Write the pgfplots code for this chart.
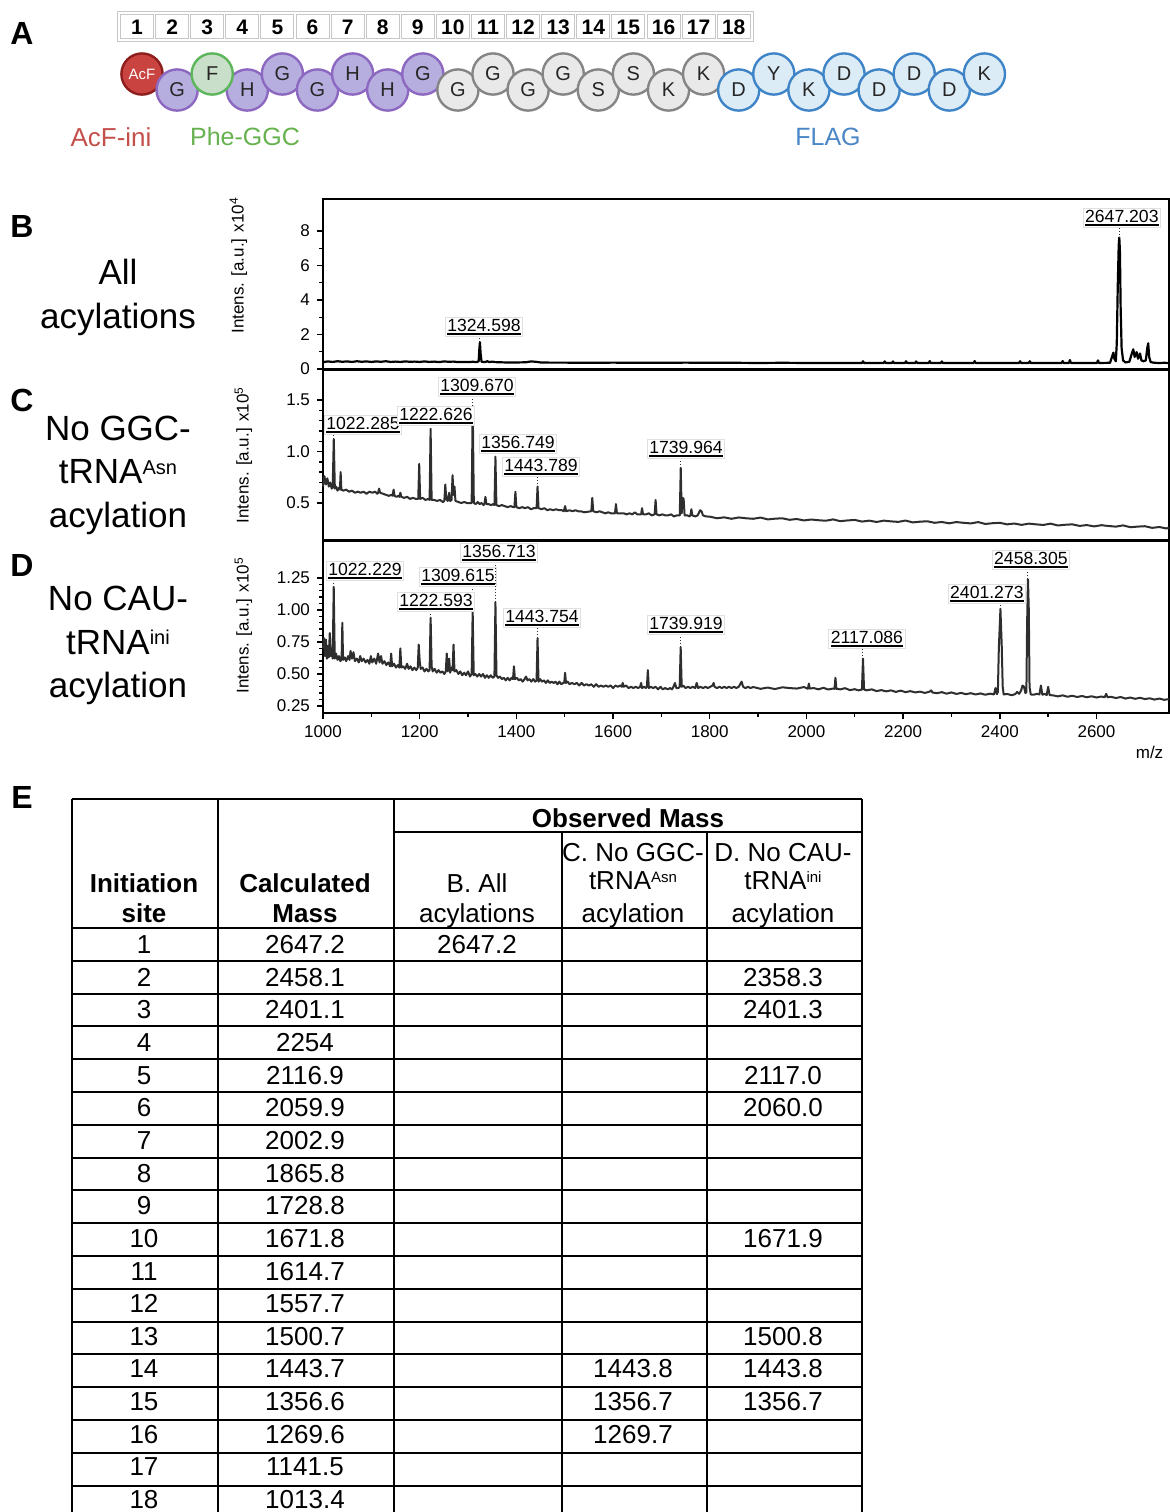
\documentclass[border=0pt]{standalone}
\usepackage{fontspec}
\setmainfont{Liberation Sans}
\usepackage{pgfplots}
\pgfplotsset{compat=1.18}

\definecolor{spec}{HTML}{2E2E2E}
\definecolor{acfF}{HTML}{C94440}
\definecolor{acfD}{HTML}{8E1E1E}
\definecolor{purF}{HTML}{B7AEE0}
\definecolor{purD}{HTML}{8C68C0}
\definecolor{grnF}{HTML}{CADFC9}
\definecolor{grnD}{HTML}{5DB65B}
\definecolor{gryF}{HTML}{E9E9E9}
\definecolor{gryD}{HTML}{858585}
\definecolor{bluF}{HTML}{DCECF6}
\definecolor{bluD}{HTML}{3E84C6}
\definecolor{acfT}{HTML}{C4504C}
\definecolor{pheT}{HTML}{66B24E}
\definecolor{flagT}{HTML}{4A86C6}

\newcommand{\fs}[2]{\fontsize{#1}{#2}\selectfont}
% small raised superscript: size, raise, text
\newcommand{\sups}[3]{\raisebox{#2}{\fontsize{#1}{#1}\selectfont #3}}
% underlined peak label
\newcommand{\ul}[1]{\vtop{\hbox{#1}\kern0.5pt\hrule height 0.9pt}}
\tikzset{pklbl/.style={fill=white, draw=black!12, inner sep=1pt, font=\fs{8.8}{10}, text=black}}
% peak annotation: m/z, peak top, label x, label y, text
\newcommand{\pk}[5]{%
  \draw[densely dotted, line width=0.5pt, spec] (axis cs:#1,#2) -- (axis cs:#1,#4);
  \node[pklbl] at (axis cs:#3,#4) {\ul{#5}};}

\pgfplotsset{
  specaxis/.style={
    scale only axis, width=423pt,
    xmin=1000, xmax=2750,
    axis line style={line width=1pt},
    tick style={line width=0.7pt, black},
    tick align=outside,
    major tick length=3pt, minor tick length=2pt,
    ytick pos=left, xtick pos=bottom,
    ticklabel style={font=\fs{8.5}{10}},
    /pgf/number format/assume math mode=true,
    ylabel style={font=\fs{8.5}{10}, anchor=center},
    clip=false,
  },
  specline/.style={line width=1pt, line join=round, spec, mark=none},
}

\begin{document}
\begin{tikzpicture}
\useasboundingbox (0,0) rectangle (585pt,-756pt);

% ---------------- A: peptide sequence ----------------
\begin{scope}[x=0.5pt,y=-0.5pt]
  \draw[black!22, line width=0.5pt] (117,11) rectangle (753,41);
  \foreach \i in {1,...,18} {
    \draw[black!22, line width=0.5pt] ({120.5+35.1*(\i-1)},14) rectangle ({153.5+35.1*(\i-1)},38);
    \node[font=\bfseries\fs{10.5}{12}] at ({137+35.1*(\i-1)},27) {\i};
  }
  \node[font=\bfseries\fs{16}{18}] at (22,33) {A};
  \node[font=\fs{13}{15}, text=acfT] at (111,137) {AcF-ini};
  \node[font=\fs{12.5}{15}, text=pheT] at (245,137) {Phe-GGC};
  \node[font=\fs{12.5}{15}, text=flagT] at (828,137) {FLAG};
\end{scope}

\begin{axis}[at={(0pt,0pt)}, anchor=north west, scale only axis,
  width=585pt, height=80pt, xmin=0, xmax=1170, ymin=-160, ymax=0,
  hide axis, clip=false, point meta=explicit symbolic,
  nodes near coords,
  every node near coord/.style={anchor=center, font=\fs{10}{10}, text=black!85}]
\addplot[only marks, mark=*, mark size=10.3pt, mark options={fill=acfF, draw=acfD, line width=1.2pt},
  every node near coord/.append style={text=white, font=\fs{7.5}{8}}]
  coordinates {(142,-74) [AcF]};
\addplot[only marks, mark=*, mark size=10.3pt, mark options={fill=purF, draw=purD, line width=1.2pt}]
  coordinates {(177.1,-90) [G] (247.3,-90) [H] (282.4,-74) [G] (317.5,-90) [G]
               (352.6,-74) [H] (387.7,-90) [H] (422.8,-74) [G]};
\addplot[only marks, mark=*, mark size=10.3pt, mark options={fill=grnF, draw=grnD, line width=1.2pt}]
  coordinates {(212.2,-74) [F]};
\addplot[only marks, mark=*, mark size=10.3pt, mark options={fill=gryF, draw=gryD, line width=1.2pt}]
  coordinates {(457.9,-90) [G] (493,-74) [G] (528.1,-90) [G] (563.2,-74) [G]
               (598.3,-90) [S] (633.4,-74) [S] (668.5,-90) [K] (703.6,-74) [K]};
\addplot[only marks, mark=*, mark size=10.3pt, mark options={fill=bluF, draw=bluD, line width=1.2pt}]
  coordinates {(738.7,-90) [D] (773.8,-74) [Y] (808.9,-90) [K] (844,-74) [D]
               (879.1,-90) [D] (914.2,-74) [D] (949.3,-90) [D] (984.4,-74) [K]};
\end{axis}

% ---------------- B: all acylations ----------------
\begin{axis}[specaxis, at={(161.5pt,-184.5pt)}, anchor=south west, height=85pt,
  ymin=0, ymax=9.855, ytick={0,2,4,6,8}, minor y tick num=1, xtick=\empty,
  ylabel={Intens. [a.u.] x10\textsuperscript{4}},
  ylabel style={at={(axis description cs:-0.1,0.61)}}]
\addplot[specline, line width=1.1pt, black] coordinates {
(1000,0.40)(1010,0.44)(1020,0.41)(1030,0.45)(1040,0.42)(1050,0.44)(1060,0.41)(1070,0.45)
(1080,0.42)(1090,0.44)(1100,0.41)(1110,0.44)(1120,0.42)(1130,0.45)(1140,0.41)(1150,0.43)
(1160,0.41)(1170,0.44)(1180,0.42)(1190,0.43)(1200,0.41)(1210,0.44)(1220,0.41)(1230,0.43)
(1240,0.40)(1250,0.44)(1260,0.42)(1270,0.43)(1280,0.40)(1290,0.41)(1300,0.40)(1310,0.42)
(1318,0.40)(1322,0.45)(1323.5,1.2)(1324.6,1.55)(1326,0.9)(1328,0.42)(1335,0.40)(1340,0.45)
(1344,0.40)(1350,0.43)(1356,0.40)(1365,0.39)(1380,0.38)(1400,0.38)(1420,0.39)(1430,0.44)
(1440,0.42)(1450,0.38)(1470,0.37)(1500,0.37)(1550,0.36)(1600,0.37)(1650,0.36)(1700,0.36)
(1750,0.37)(1800,0.36)(1850,0.36)(1900,0.35)(1950,0.36)(2000,0.35)(2050,0.35)(2100,0.35)
(2115,0.35)(2117,0.45)(2119,0.35)(2160,0.35)(2162,0.44)(2164,0.35)(2177,0.35)(2179,0.44)
(2181,0.35)(2204,0.35)(2206,0.45)(2208,0.35)(2225,0.35)(2227,0.44)(2229,0.35)(2253,0.35)
(2255,0.46)(2257,0.35)(2278,0.35)(2280,0.44)(2282,0.35)(2346,0.35)(2348,0.46)(2350,0.35)
(2440,0.35)(2442,0.45)(2444,0.35)(2460,0.35)(2462,0.45)(2464,0.35)(2528,0.35)(2530,0.46)
(2532,0.35)(2543,0.35)(2545,0.52)(2547,0.35)(2601,0.35)(2603,0.50)(2605,0.35)(2628,0.36)
(2632,0.7)(2635,0.95)(2637,0.6)(2640,0.45)(2642,1.5)(2644,4.8)(2646,7.2)(2647.2,7.62)
(2648.5,6.8)(2650,3.5)(2652,1.2)(2655,0.5)(2660,0.38)(2668,0.42)(2672,0.8)(2676,1.14)
(2679,0.7)(2683,0.98)(2686,0.6)(2690,0.9)(2693,0.5)(2697,0.45)(2702,0.5)(2705,1.2)
(2707,1.49)(2709,0.7)(2712,0.40)(2720,0.36)(2730,0.35)(2740,0.36)(2750,0.35)};
\pk{1324.6}{1.55}{1333}{2.43}{1324.598}
\pk{2647.2}{7.62}{2652.5}{8.75}{2647.203}
\end{axis}

% ---------------- C: no GGC-tRNA(Asn) acylation ----------------
\begin{axis}[specaxis, at={(161.5pt,-270pt)}, anchor=south west, height=85pt,
  ymin=0.141, ymax=1.791, ytick={0.5,1.0,1.5}, minor y tick num=4, xtick=\empty,
  yticklabel style={/pgf/number format/.cd, fixed, fixed zerofill, precision=1},
  ylabel={Intens. [a.u.] x10\textsuperscript{5}},
  ylabel style={at={(axis description cs:-0.094,0.5)}}]
\addplot[specline] coordinates {
(1000,0.66)(1003,0.76)(1006,0.68)(1009,0.74)(1012,0.66)(1015,0.70)(1018,0.64)(1020,0.65)
(1022.3,1.12)(1024.5,0.64)(1027,0.66)(1030,0.62)(1033,0.65)(1035,0.63)(1036.5,0.80)(1038,0.63)
(1042,0.62)(1048,0.63)(1054,0.61)(1060,0.62)(1066,0.60)(1072,0.61)(1078,0.60)(1084,0.61)
(1090,0.59)(1096,0.61)(1102,0.60)(1108,0.61)(1112,0.59)(1114,0.60)(1116,0.64)(1118,0.60)
(1124,0.59)(1130,0.58)(1136,0.57)(1142,0.58)(1144,0.57)(1146,0.63)(1148,0.57)(1152,0.56)
(1156,0.57)(1158,0.56)(1160,0.60)(1162,0.56)(1168,0.55)(1174,0.56)(1180,0.54)(1186,0.55)
(1192,0.54)(1197,0.54)(1199,0.88)(1201,0.54)(1206,0.55)(1212,0.53)(1218,0.54)(1220.5,0.53)
(1222.6,1.22)(1224.7,0.53)(1230,0.53)(1236,0.52)(1242,0.53)(1248,0.51)(1251,0.52)(1253,0.68)
(1255,0.54)(1258,0.52)(1261,0.60)(1263,0.52)(1266,0.53)(1268,0.77)(1270,0.58)(1272,0.66)
(1274,0.52)(1280,0.51)(1286,0.50)(1292,0.51)(1298,0.50)(1304,0.50)(1307.5,0.50)(1309.7,1.44)
(1312,0.50)(1316,0.49)(1320,0.51)(1324,0.49)(1328,0.50)(1332,0.48)(1334,0.49)(1336,0.56)
(1338,0.49)(1342,0.49)(1348,0.48)(1352,0.49)(1354.7,0.48)(1356.7,0.95)(1358.7,0.48)(1364,0.47)
(1370,0.48)(1376,0.47)(1382,0.46)(1388,0.47)(1394,0.46)(1396,0.46)(1398,0.61)(1400,0.46)
(1406,0.45)(1412,0.46)(1418,0.45)(1424,0.46)(1430,0.44)(1436,0.45)(1441.8,0.45)(1443.8,0.66)
(1445.8,0.45)(1452,0.44)(1458,0.45)(1464,0.43)(1470,0.44)(1476,0.43)(1482,0.44)(1488,0.43)
(1494,0.43)(1498,0.42)(1500.8,0.47)(1503,0.42)(1510,0.43)(1516,0.42)(1522,0.43)(1528,0.42)
(1534,0.42)(1540,0.41)(1555,0.42)(1557,0.55)(1559,0.42)(1566,0.41)(1572,0.42)(1578,0.41)
(1584,0.40)(1590,0.41)(1596,0.40)(1604,0.40)(1606,0.49)(1608,0.40)(1622,0.40)(1628,0.39)
(1634,0.40)(1640,0.39)(1645,0.41)(1650,0.39)(1658,0.39)(1660,0.45)(1662,0.39)(1668,0.39)
(1674,0.40)(1680,0.38)(1686,0.39)(1688,0.53)(1690,0.39)(1696,0.38)(1702,0.39)(1708,0.38)
(1714,0.38)(1720,0.39)(1726,0.37)(1732,0.38)(1738,0.38)(1740,0.84)(1742,0.40)(1744,0.55)
(1746,0.54)(1748,0.38)(1754,0.38)(1758,0.37)(1760,0.38)(1762,0.44)(1764,0.38)(1770,0.37)
(1775,0.38)(1778,0.41)(1780,0.43)(1783,0.42)(1786,0.38)(1792,0.37)(1800,0.368)(1815,0.352)
(1830,0.361)(1845,0.347)(1860,0.360)(1875,0.352)(1890,0.347)(1905,0.359)(1920,0.341)(1935,0.348)
(1950,0.352)(1965,0.337)(1980,0.345)(1995,0.331)(2010,0.340)(2025,0.333)(2040,0.328)(2055,0.341)
(2070,0.324)(2085,0.331)(2100,0.336)(2115,0.320)(2130,0.329)(2145,0.316)(2160,0.329)(2175,0.322)
(2190,0.317)(2205,0.330)(2220,0.312)(2235,0.319)(2250,0.323)(2265,0.308)(2280,0.316)(2295,0.303)
(2310,0.315)(2325,0.308)(2340,0.302)(2355,0.315)(2370,0.297)(2385,0.304)(2400,0.308)(2415,0.293)
(2430,0.301)(2445,0.288)(2460,0.300)(2475,0.293)(2490,0.287)(2505,0.300)(2520,0.282)(2535,0.289)
(2550,0.293)(2565,0.278)(2580,0.286)(2595,0.273)(2610,0.285)(2625,0.277)(2640,0.271)(2655,0.283)
(2670,0.265)(2685,0.271)(2700,0.275)(2715,0.259)(2730,0.267)(2745,0.253)(2750,0.262)};
\pk{1022.3}{1.12}{1082.7}{1.257}{1022.285}
\pk{1222.6}{1.22}{1233.7}{1.345}{1222.626}
\pk{1309.7}{1.44}{1318.5}{1.626}{1309.670}
\pk{1356.7}{0.95}{1403.3}{1.073}{1356.749}
\pk{1443.8}{0.66}{1450.9}{0.85}{1443.789}
\pk{1740}{0.84}{1750.8}{1.024}{1739.964}
\end{axis}

% ---------------- D: no CAU-tRNA(ini) acylation ----------------
\begin{axis}[specaxis, at={(161.5pt,-356.5pt)}, anchor=south west, height=86pt,
  ymin=0.195, ymax=1.539, ytick={0.25,0.5,0.75,1.0,1.25}, minor y tick num=4,
  yticklabel style={/pgf/number format/.cd, fixed, fixed zerofill, precision=2},
  xtick={1000,1200,...,2600}, minor x tick num=1,
  xticklabel style={/pgf/number format/set thousands separator={}},
  ylabel={Intens. [a.u.] x10\textsuperscript{5}},
  ylabel style={at={(axis description cs:-0.094,0.51)}}]
\addplot[specline] coordinates {
(1000,0.70)(1002,0.78)(1004,0.64)(1006,0.77)(1008,0.62)(1010,0.72)(1012,0.63)(1014,0.82)
(1016,0.64)(1018,0.70)(1020,0.62)(1022.2,1.18)(1024.3,0.62)(1027,0.66)(1030,0.61)(1033,0.64)
(1036,0.60)(1038.5,0.62)(1040,0.90)(1041.5,0.61)(1045,0.63)(1048,0.60)(1052,0.64)(1055,0.61)
(1057,0.68)(1060,0.62)(1063,0.67)(1066,0.60)(1070,0.62)(1074,0.59)(1077,0.64)(1080,0.60)
(1084,0.62)(1088,0.59)(1092,0.61)(1096,0.58)(1099,0.64)(1102,0.59)(1106,0.62)(1110,0.58)
(1114,0.66)(1117,0.59)(1120,0.64)(1123,0.58)(1127,0.60)(1131,0.57)(1135,0.59)(1139,0.56)
(1141,0.66)(1143,0.56)(1147,0.58)(1151,0.55)(1155,0.57)(1158,0.55)(1160,0.70)(1162,0.55)
(1166,0.56)(1170,0.54)(1174,0.58)(1177,0.54)(1181,0.56)(1185,0.53)(1189,0.55)(1193,0.53)
(1196,0.55)(1198,0.73)(1200,0.60)(1202,0.54)(1206,0.55)(1210,0.52)(1214,0.54)(1218,0.52)
(1220.5,0.53)(1222.6,0.94)(1224.7,0.56)(1227,0.52)(1231,0.54)(1235,0.51)(1239,0.53)(1243,0.51)
(1247,0.52)(1251,0.50)(1254,0.52)(1256,0.66)(1258,0.52)(1261,0.62)(1263,0.51)(1266,0.55)
(1268,0.53)(1270,0.73)(1272,0.52)(1276,0.53)(1280,0.50)(1284,0.52)(1288,0.49)(1292,0.51)
(1296,0.49)(1300,0.52)(1304,0.48)(1307.5,0.50)(1309.6,0.99)(1311.8,0.49)(1315,0.50)(1319,0.48)
(1323,0.50)(1327,0.48)(1331,0.50)(1335,0.47)(1339,0.49)(1343,0.47)(1347,0.49)(1351,0.47)
(1354.6,0.48)(1356.7,1.06)(1358.8,0.49)(1362,0.47)(1366,0.48)(1370,0.46)(1374,0.47)(1378,0.45)
(1382,0.47)(1386,0.45)(1390,0.47)(1393,0.46)(1395,0.56)(1397,0.46)(1401,0.47)(1405,0.45)
(1409,0.46)(1413,0.44)(1417,0.46)(1420,0.48)(1423,0.45)(1427,0.46)(1431,0.44)(1435,0.46)
(1439,0.44)(1441.8,0.45)(1443.8,0.78)(1445.8,0.44)(1449,0.46)(1453,0.44)(1457,0.45)(1461,0.43)
(1465,0.45)(1469,0.43)(1473,0.44)(1477,0.43)(1481,0.44)(1485,0.42)(1489,0.44)(1493,0.42)
(1497,0.43)(1499,0.43)(1500.8,0.51)(1502.6,0.43)(1506,0.44)(1510,0.42)(1515,0.43)(1520,0.42)
(1525,0.43)(1530,0.41)(1535,0.43)(1540,0.41)(1545,0.42)(1550,0.41)(1555,0.42)(1560,0.40)
(1565,0.42)(1570,0.40)(1575,0.41)(1580,0.40)(1585,0.41)(1590,0.40)(1595,0.41)(1600,0.39)
(1605,0.41)(1610,0.40)(1615,0.41)(1618,0.40)(1620,0.43)(1622,0.40)(1627,0.41)(1632,0.39)
(1637,0.40)(1642,0.39)(1647,0.40)(1652,0.39)(1656,0.40)(1658,0.43)(1660,0.39)(1664,0.40)
(1668,0.39)(1670,0.40)(1672,0.53)(1674,0.39)(1678,0.40)(1683,0.39)(1688,0.40)(1693,0.38)
(1698,0.40)(1703,0.38)(1708,0.39)(1713,0.38)(1718,0.39)(1722,0.38)(1725,0.40)(1728,0.43)
(1731,0.39)(1735,0.39)(1737.8,0.40)(1739.9,0.71)(1742,0.40)(1745,0.41)(1750,0.39)(1755,0.40)
(1760,0.39)(1765,0.40)(1770,0.39)(1773,0.43)(1776,0.39)(1781,0.40)(1786,0.39)(1791,0.40)
(1796,0.39)(1801,0.40)(1806,0.41)(1808,0.43)(1810,0.40)(1815,0.39)(1820,0.40)(1825,0.39)
(1830,0.40)(1835,0.39)(1840,0.40)(1845,0.39)(1850,0.40)(1855,0.39)(1860,0.40)(1863,0.42)
(1866,0.44)(1869,0.40)(1874,0.39)(1879,0.40)(1884,0.39)(1890,0.398)(1905,0.384)(1920,0.394)
(1935,0.382)(1950,0.396)(1965,0.390)(1980,0.386)(1995,0.398)(2003,0.384)(2005,0.425)(2007,0.386)
(2015,0.390)(2025,0.380)(2035,0.392)(2045,0.379)(2055,0.386)(2058,0.384)(2060,0.470)(2062,0.384)
(2070,0.380)(2080,0.389)(2090,0.374)(2100,0.381)(2108,0.372)(2114.8,0.378)(2117,0.62)(2119.2,0.378)
(2125,0.372)(2135,0.380)(2145,0.366)(2155,0.374)(2165,0.364)(2175,0.372)(2185,0.360)(2195,0.370)
(2205,0.358)(2215,0.366)(2225,0.356)(2235,0.362)(2245,0.352)(2255,0.362)(2258,0.372)(2261,0.355)
(2270,0.350)(2280,0.358)(2290,0.346)(2300,0.356)(2310,0.344)(2320,0.352)(2330,0.342)(2340,0.350)
(2350,0.340)(2360,0.348)(2370,0.338)(2380,0.346)(2388,0.340)(2391,0.39)(2394,0.342)(2396,0.36)
(2398,0.70)(2401.3,1.01)(2404,0.72)(2406,0.40)(2408,0.340)(2415,0.344)(2425,0.334)(2432,0.343)
(2436,0.36)(2440,0.345)(2444,0.37)(2447,0.41)(2450,0.40)(2453,0.35)(2455,0.36)(2456.5,0.9)
(2458.3,1.24)(2460,1.0)(2461.5,0.40)(2464,0.34)(2470,0.338)(2477,0.345)(2482,0.340)(2485,0.41)
(2488,0.338)(2493,0.345)(2497,0.335)(2500,0.40)(2503,0.335)(2510,0.333)(2520,0.325)(2530,0.333)
(2540,0.322)(2550,0.330)(2560,0.320)(2570,0.328)(2580,0.318)(2590,0.326)(2600,0.316)(2610,0.324)
(2617,0.318)(2620,0.345)(2623,0.318)(2630,0.322)(2640,0.312)(2650,0.320)(2660,0.308)(2670,0.316)
(2680,0.306)(2690,0.314)(2700,0.304)(2710,0.310)(2720,0.300)(2730,0.308)(2740,0.298)(2750,0.304)};
\pk{1022.2}{1.18}{1086.9}{1.305}{1022.229}
\pk{1309.6}{0.99}{1279.2}{1.258}{1309.615}
\pk{1356.7}{1.06}{1364}{1.445}{1356.713}
\pk{1222.6}{0.94}{1233.7}{1.0625}{1222.593}
\pk{1443.8}{0.78}{1453}{0.9375}{1443.754}
\pk{1739.9}{0.71}{1750.8}{0.883}{1739.919}
\pk{2117}{0.62}{2125.1}{0.773}{2117.086}
\pk{2401.3}{1.01}{2373.3}{1.125}{2401.273}
\pk{2458.3}{1.24}{2464.3}{1.39}{2458.305}
\node[font=\fs{8.5}{10}] at (axis description cs:0.977,-0.227) {m/z};
\end{axis}

% ---------------- side titles B-D ----------------
\begin{scope}[x=0.5pt,y=-0.5pt, every node/.style={inner sep=0pt}]
  \node[font=\bfseries\fs{16}{18}] at (22,226) {B};
  \node[font=\bfseries\fs{16}{18}] at (22,400) {C};
  \node[font=\bfseries\fs{16}{18}] at (22,565) {D};
  \node[font=\bfseries\fs{16}{18}] at (22,797) {E};
  \begin{scope}[every node/.style={inner sep=0pt, anchor=base, font=\fs{17.5}{20}}]
    \node at (118,284.5) {All};
    \node at (118,328) {acylations};
    \node at (118,440) {No GGC-};
    \node at (118,483.5) {tRNA\sups{10}{4.6pt}{Asn}};
    \node at (118,527) {acylation};
    \node at (118,610.5) {No CAU-};
    \node at (118,654) {tRNA\sups{10}{4.6pt}{ini}};
    \node at (118,697) {acylation};
  \end{scope}
\end{scope}

% ---------------- E: table of masses ----------------
\begin{scope}[x=0.5pt,y=-0.5pt]
  \draw[line width=1pt] (72,799) -- (862,799)
    (72,799) -- (72,1525) (218,799) -- (218,1525) (394,799) -- (394,1525)
    (862,799) -- (862,1525) (562,832) -- (562,1525) (707,832) -- (707,1525)
    (394,832) -- (862,832);
  \draw[line width=1.3pt] (72,928) -- (862,928);
  \foreach \k in {1,...,17} \draw[line width=1pt] (72,{928+32.8*\k}) -- (862,{928+32.8*\k});
  \begin{scope}[every node/.style={inner sep=0pt, anchor=base, font=\fs{13}{15}}]
    \node[font=\bfseries\fs{13}{15}] at (628,827) {Observed Mass};
    \node[font=\bfseries\fs{13}{15}] at (144,892) {Initiation};
    \node[font=\bfseries\fs{13}{15}] at (144,922) {site};
    \node[font=\bfseries\fs{13}{15}] at (305,892) {Calculated};
    \node[font=\bfseries\fs{13}{15}] at (305,922) {Mass};
    \node at (477,892) {B. All};
    \node at (477,922) {acylations};
    \node at (633,861) {C. No GGC-};
    \node at (633,889) {tRNA\sups{7.5}{3.4pt}{Asn}};
    \node at (633,922) {acylation};
    \node at (783,861) {D. No CAU-};
    \node at (783,889) {tRNA\sups{7.5}{3.4pt}{ini}};
    \node at (783,922) {acylation};
    \foreach \r/\m/\b/\c/\d in {1/2647.2/2647.2/{}/{}, 2/2458.1/{}/{}/2358.3,
        3/2401.1/{}/{}/2401.3, 4/2254/{}/{}/{}, 5/2116.9/{}/{}/2117.0,
        6/2059.9/{}/{}/2060.0, 7/2002.9/{}/{}/{}, 8/1865.8/{}/{}/{},
        9/1728.8/{}/{}/{}, 10/1671.8/{}/{}/1671.9, 11/1614.7/{}/{}/{},
        12/1557.7/{}/{}/{}, 13/1500.7/{}/{}/1500.8, 14/1443.7/{}/1443.8/1443.8,
        15/1356.6/{}/1356.7/1356.7, 16/1269.6/{}/1269.7/{}, 17/1141.5/{}/{}/{},
        18/1013.4/{}/{}/{}} {
      \node at (144,{953.5+32.65*(\r-1)}) {\r};
      \node at (305,{953.5+32.65*(\r-1)}) {\m};
      \node at (477,{953.5+32.65*(\r-1)}) {\b};
      \node at (633,{953.5+32.65*(\r-1)}) {\c};
      \node at (783,{953.5+32.65*(\r-1)}) {\d};
    }
  \end{scope}
\end{scope}
\end{tikzpicture}
\end{document}
